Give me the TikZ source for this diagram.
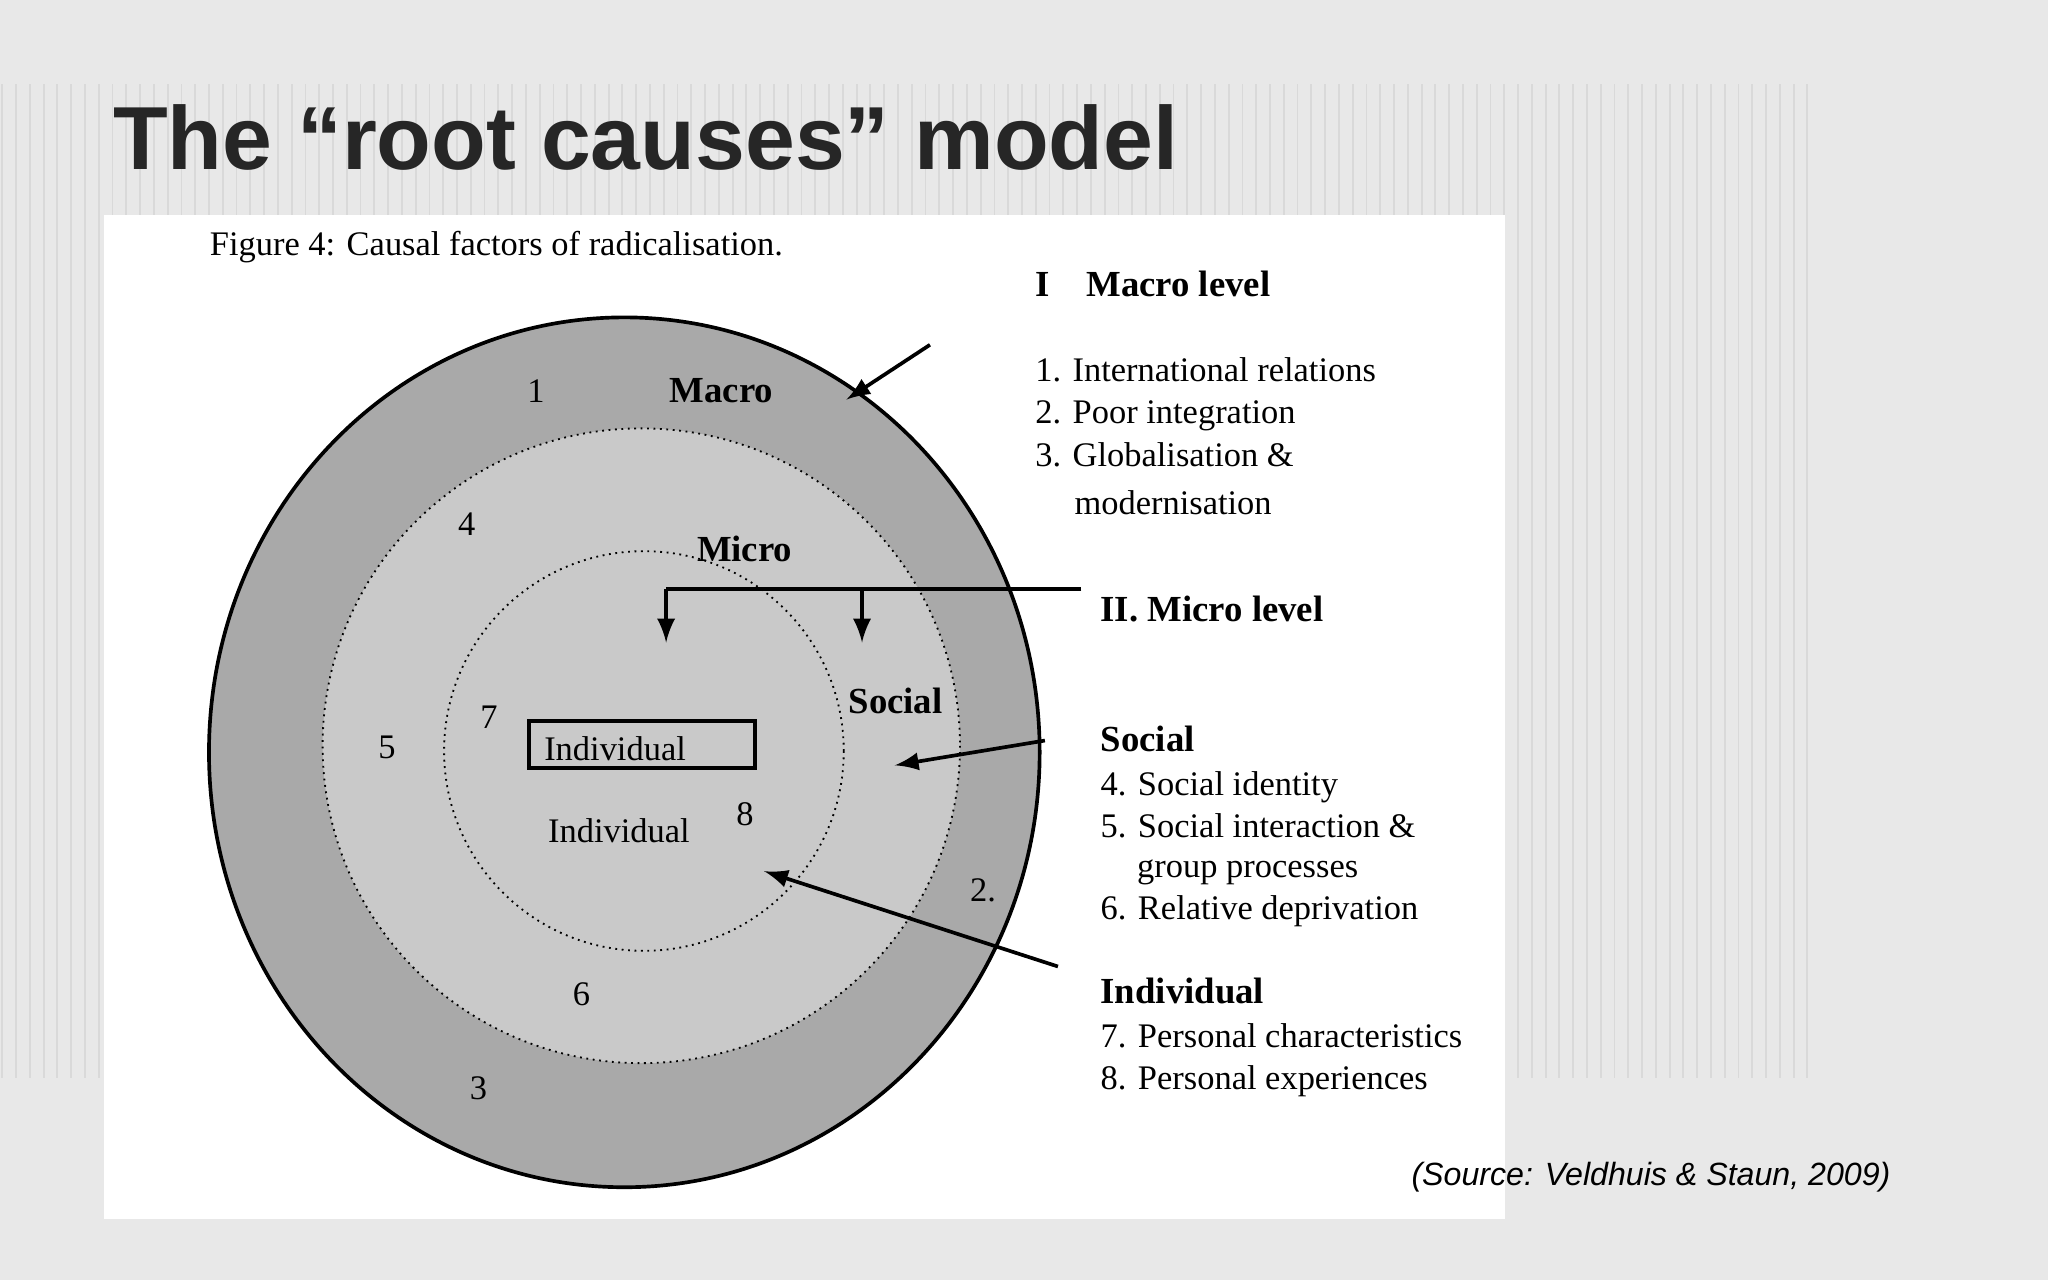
\documentclass[tikz,border=0pt]{standalone}
\usepackage{fontspec}
\setmainfont{Liberation Serif}
\newfontfamily\titlefont{Liberation Sans}
\usetikzlibrary{patterns}
\definecolor{bgrey}{HTML}{E8E8E8}
\definecolor{ring}{HTML}{A9A9A9}
\definecolor{core}{HTML}{C9C9C9}
\begin{document}
\begin{tikzpicture}[x=0.01cm,y=-0.01cm,
  txt/.style={anchor=base west, inner sep=0, font=\fontsize{7.5}{9}\selectfont},
  hdr/.style={anchor=base west, inner sep=0, font=\fontsize{8}{9}\selectfont\bfseries},
  fleche/.style={-latex, thick}]
\useasboundingbox (0,0) rectangle (1568,980);
\fill[bgrey] (0,0) rectangle (1568,980);
\fill[pattern=vertical lines, pattern color=gray!30] (0,65) rectangle (1390,825);
\fill[white] (80,165) rectangle (1152,933);
\node[anchor=base west, inner sep=0, font=\titlefont\fontsize{19.5}{22}\selectfont\bfseries, text=black!85] (title) at (86,130) {The “root causes” model};
\node[txt] (fig) at (160,196) {Figure 4: Causal factors of radicalisation.};
% circles
\fill[ring, draw=black, thick] (478,576) ellipse (318 and 333);
\fill[core, draw=black, densely dotted] (491,571) ellipse (244 and 243);
\draw[black, densely dotted] (493,575) circle (153);
% circle labels
\node[txt] (n1) at (403,308) {1};
\node[hdr] (macro) at (512,308) {Macro};
\node[txt] (n4) at (350,410) {4};
\node[hdr] (micro) at (533,430) {Micro};
\node[hdr] (social) at (649,546) {Social};
\node[txt] (n5) at (289,581) {5};
\node[txt] (n7) at (367,558) {7};
\node[draw, thick, minimum width=173*0.01cm, minimum height=36*0.01cm, inner sep=0] (box) at (491.5,570) {};
\node[txt] (ind1) at (416,582) {Individual};
\node[txt] (ind2) at (419,645) {Individual};
\node[txt] (n8) at (563,632) {8};
\node[txt] (n2) at (742,690) {2.};
\node[txt] (n6) at (438,770) {6};
\node[txt] (n3) at (359,842) {3};
% legend
\node[hdr] (lmacro) at (792,227) {I\quad Macro level};
\node[txt] (l1) at (792,292) {1. International relations};
\node[txt] (l2) at (792,324) {2. Poor integration};
\node[txt] (l3) at (792,357) {3. Globalisation \&};
\node[txt] (l3b) at (822,394) {modernisation};
\node[hdr] (lmicro) at (842,476) {II. Micro level};
\node[hdr] (lsocial) at (842,575) {Social};
\node[txt] (l4) at (842,609) {4. Social identity};
\node[txt] (l5) at (842,641) {5. Social interaction \&};
\node[txt] (l5b) at (870,672) {group processes};
\node[txt] (l6) at (842,704) {6. Relative deprivation};
\node[hdr] (lind) at (842,768) {Individual};
\node[txt] (l7) at (842,802) {7. Personal characteristics};
\node[txt] (l8) at (842,834) {8. Personal experiences};
\node[anchor=base west, inner sep=0, font=\titlefont\fontsize{7}{8}\selectfont\itshape] (src) at (1080,908) {(Source: Veldhuis \& Staun, 2009)};
% arrows
\coordinate (amacro) at (712,264);
\coordinate (tmacro) at (648,306);
\draw[fleche] (amacro) -- (tmacro);
\coordinate (amicro) at (828,451);
\coordinate (jl) at (510,451);
\coordinate (jr) at (660,451);
\coordinate (tl) at (510,492);
\coordinate (tr) at (660,492);
\draw[thick] (amicro) -- (jl);
\draw[fleche] (jl) -- (tl);
\draw[fleche] (jr) -- (tr);
\coordinate (asoc) at (800,567);
\coordinate (tsoc) at (685,586);
\draw[fleche] (asoc) -- (tsoc);
\coordinate (aind) at (810,740);
\coordinate (tind) at (585,667);
\draw[fleche] (aind) -- (tind);
\end{tikzpicture}
\end{document}
